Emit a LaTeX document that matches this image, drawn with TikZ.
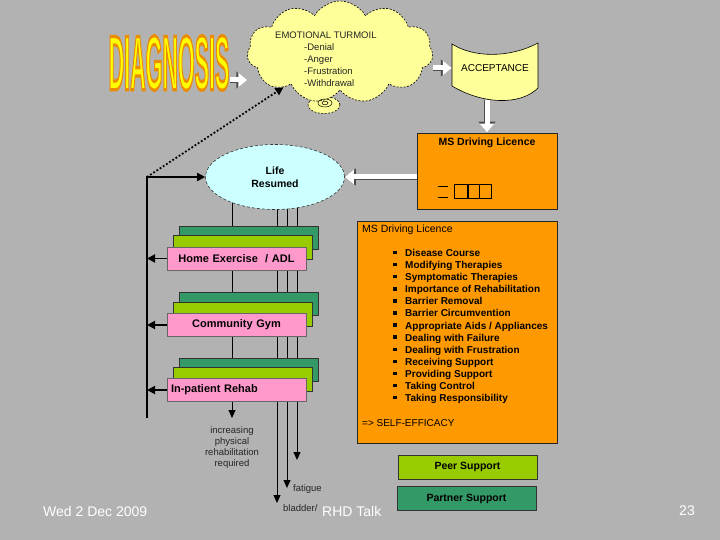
\documentclass[tikz,border=0pt]{standalone}
\usepackage{fontspec}
\setmainfont{Liberation Sans}
\usetikzlibrary{arrows.meta,positioning,shapes.symbols,shapes.geometric,backgrounds}

\definecolor{slidegray}{RGB}{178,178,178}
\definecolor{cardorange}{RGB}{255,153,0}
\definecolor{lifecyan}{RGB}{204,255,255}
\definecolor{cloudyellow}{RGB}{255,255,153}
\definecolor{gymteal}{RGB}{51,153,102}
\definecolor{gymlime}{RGB}{153,204,0}
\definecolor{gympink}{RGB}{255,153,204}
\definecolor{wordyellow}{RGB}{255,255,0}

\newcommand{\listbullet}{\makebox[12pt][l]{\raisebox{2.2pt}{\rule{3.5pt}{3.5pt}}}}
% outlined glyphs through the pdf text render mode
\newcommand{\outlineword}[1]{\special{pdf:literal direct 2 Tr 0.9 w 0.92 0.55 0 RG}#1\special{pdf:literal direct 0 Tr}}

\tikzset{
    cardbox/.style={
        draw=black!85,
        line width=0.8pt,
        fill=cardorange,
        inner sep=0pt
    },
    tealbox/.style={
        draw=black!80,
        line width=0.6pt,
        fill=gymteal,
        minimum width=139pt,
        minimum height=23pt,
        inner sep=0pt
    },
    limebox/.style={
        draw=black!80,
        line width=0.6pt,
        fill=gymlime,
        minimum width=139pt,
        minimum height=24pt,
        inner sep=0pt
    },
    pinkbox/.style={
        draw=black!60,
        line width=0.6pt,
        fill=gympink,
        text width=131pt,
        inner xsep=4pt,
        inner ysep=0pt,
        minimum height=23pt,
        align=center,
        font=\fontsize{11}{13}\selectfont\bfseries
    },
    supportbox/.style={
        draw=black!80,
        line width=0.6pt,
        minimum width=139pt,
        minimum height=24pt,
        inner sep=0pt,
        font=\fontsize{10.5}{12}\selectfont\bfseries
    },
    cloudshape/.style={
        cloud,
        cloud puffs=11,
        cloud puff arc=120,
        aspect=1.85,
        draw=black,
        line width=0.6pt,
        dash pattern=on 2pt off 1.5pt,
        fill=cloudyellow,
        minimum width=186pt,
        minimum height=102pt,
        inner sep=0pt
    },
    whitearrow/.style={
        draw=white,
        line width=5pt,
        -{Triangle[length=9pt,width=14pt]},
        preaction={draw=black!70, line width=6.6pt, -{Triangle[length=11pt,width=16.5pt]}}
    },
    railarrow/.style={
        -{Triangle[length=8pt,width=8pt]},
        line width=1.8pt
    },
    droparrow/.style={
        -{Triangle[length=8pt,width=7pt]},
        line width=1pt
    },
    cloudtext/.style={
        font=\fontsize{9.5}{12}\selectfont,
        text=black!85,
        inner sep=0pt
    },
    smalltext/.style={
        font=\fontsize{9.5}{11.3}\selectfont,
        text=black!85,
        inner sep=0pt
    },
    footer/.style={
        font=\fontsize{14}{16}\selectfont,
        text=white,
        inner sep=0pt
    }
}

\begin{document}
\begin{tikzpicture}[x=1pt, y=-1pt]
    \useasboundingbox (0,0) rectangle (720,540);
    \begin{scope}[on background layer]
        \fill[slidegray] (0,0) rectangle (720,540);
    \end{scope}

    % headline word
    \node[inner sep=0pt, text=wordyellow] (diagnosis) at (169,63) {%
        \scalebox{1}[3.6]{\fontsize{21.5}{24}\selectfont\bfseries\outlineword{DIAGNOSIS}}};

    % emotional cloud
    \node[ellipse, draw=black, line width=0.6pt, dash pattern=on 2pt off 1.5pt,
        fill=cloudyellow, minimum width=32pt, minimum height=17pt, inner sep=0pt] (thought) at (324,105) {};
    \node[cloudshape] (turmoil) at (340,52) {};
    \draw[line width=0.5pt] ([shift={(1,-2)}]thought.center) ellipse [x radius=7pt, y radius=4pt];
    \draw[line width=0.5pt] ([shift={(1,-2)}]thought.center) ellipse [x radius=3pt, y radius=1.8pt];
    \node[cloudtext, anchor=west] (turmoiltitle) at (275,35) {EMOTIONAL TURMOIL};
    \node[cloudtext, anchor=north west, align=left] (turmoillist) at (304,43) {
        -Denial\\
        -Anger\\
        -Frustration\\
        -Withdrawal
    };

    % acceptance flag
    \filldraw[fill=cloudyellow, draw=black, line width=0.6pt]
        (452,44) .. controls (474,58) and (510,58) .. (538,43) -- (538,88)
        .. controls (520,106) and (482,104) .. (452,86) -- cycle;
    \node[minimum width=86pt, minimum height=64pt, inner sep=0pt, font=\fontsize{10}{12}\selectfont] (accept) at (495,68) {ACCEPTANCE};

    % licence card
    \node[cardbox, minimum width=140pt, minimum height=76pt] (card) at (487,171) {};
    \node[inner sep=0pt, font=\fontsize{10.5}{12}\selectfont\bfseries] (cardtitle) at (487,143) {MS Driving Licence};
    \draw[line width=0.7pt] (438,186) -- (448,186) (438,197) -- (448,197)
        (454,184) rectangle (467,198) (468,184) rectangle (479,198) (479,184) rectangle (491,198);

    % life resumed
    \node[ellipse, draw=black!80, line width=0.6pt, densely dashed, fill=lifecyan,
        minimum width=139pt, minimum height=65pt, align=center,
        font=\fontsize{10.5}{13}\selectfont\bfseries] (life) at (275,177) {Life\\Resumed};

    \draw[whitearrow] ([shift={(0,17)}]diagnosis.east) -- ([shift={(0,17)}]diagnosis.east -| turmoil.west);
    \draw[whitearrow] (accept.west -| turmoil.east) -- (accept.west);
    \draw[whitearrow] (card.north |- accept.south) -- (card.north);
    \draw[whitearrow] (life.east -| card.west) -- (life.east);

    % rehab stacks
    \node[tealbox] (hometeal) at (249,237.5) {};
    \node[limebox] (homelime) at (242.5,247.5) {};
    \node[pinkbox] (home) at (236.5,258.5) {Home Exercise~ / ADL};

    \node[tealbox] (gymteal) at (249,304) {};
    \node[limebox] (gymlime) at (242.5,314) {};
    \node[pinkbox] (gym) at (236.5,325) {Community Gym};

    \node[tealbox] (wardteal) at (249,370) {};
    \node[limebox] (wardlime) at (242.5,379.5) {};
    \node[pinkbox, align=left] (ward) at (236.5,390) {In-patient Rehab};

    % feedback rail
    \coordinate (railfoot) at (147,418);
    \draw[railarrow] (railfoot) |- (life.west);
    \draw[railarrow, dotted] (life.west -| railfoot) -- (turmoil.212);
    \draw[railarrow] (home.west) -- (home.west -| railfoot);
    \draw[railarrow] (gym.west) -- (gym.west -| railfoot);
    \draw[railarrow] (ward.west) -- (ward.west -| railfoot);

    % drops from life resumed
    \coordinate (reqend) at (232,418);
    \coordinate (bladderend) at (277,503);
    \coordinate (fatigueend) at (287,488);
    \coordinate (midend) at (297,460);
    \begin{scope}[on background layer]
        \draw[droparrow] (life.center -| reqend) -- (reqend);
        \draw[droparrow] (life.center -| bladderend) -- (bladderend);
        \draw[droparrow] (life.center -| fatigueend) -- (fatigueend);
        \draw[droparrow] (life.center -| midend) -- (midend);
    \end{scope}
    \node[smalltext, align=center, below=8pt of reqend] (reqtext) {increasing\\physical\\rehabilitation\\required};
    \node[smalltext, anchor=west] (fatiguetext) at ([shift={(6,1)}]fatigueend) {fatigue};
    \node[smalltext, anchor=west] (bladdertext) at ([shift={(6,5)}]bladderend) {bladder/};

    % course card
    \node[cardbox, minimum width=200pt, minimum height=222pt] (course) at (457,332) {};
    \node[anchor=west, inner sep=0pt, font=\fontsize{10.5}{12}\selectfont] (coursetitle) at (362,230) {MS Driving Licence};
    \node[anchor=north west, inner sep=0pt, align=left, font=\fontsize{10}{12.1}\selectfont\bfseries] (topics) at (393,249) {
        \listbullet Disease Course\\
        \listbullet Modifying Therapies\\
        \listbullet Symptomatic Therapies\\
        \listbullet Importance of Rehabilitation\\
        \listbullet Barrier Removal\\
        \listbullet Barrier Circumvention\\
        \listbullet Appropriate Aids / Appliances\\
        \listbullet Dealing with Failure\\
        \listbullet Dealing with Frustration\\
        \listbullet Receiving Support\\
        \listbullet Providing Support\\
        \listbullet Taking Control\\
        \listbullet Taking Responsibility
    };
    \node[anchor=west, inner sep=0pt, font=\fontsize{10}{12}\selectfont] (efficacy) at (362,423) {=> SELF-EFFICACY};

    % support
    \node[supportbox, fill=gymlime] (peer) at (467.5,467) {Peer Support};
    \node[supportbox, fill=gymteal] (partner) at (466.5,498.5) {Partner Support};

    % footer
    \node[footer, anchor=west] (date) at (43,511) {Wed 2 Dec 2009};
    \node[footer, anchor=west] (talk) at (322,511) {RHD Talk};
    \node[footer, anchor=east] (slideno) at (695,511) {23};
\end{tikzpicture}
\end{document}
